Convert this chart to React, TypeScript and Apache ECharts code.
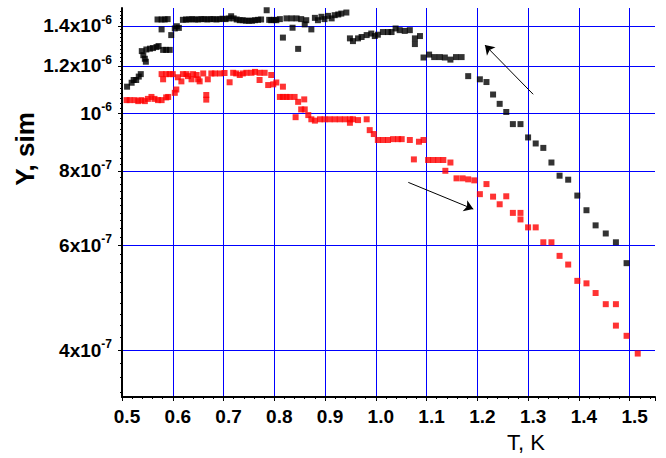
import React, { useEffect, useRef } from 'react';
import * as echarts from 'echarts';

// Black series: T in K, Y in units of 1e-6 sim
const blackT = [
  0.510, 0.519, 0.523, 0.528, 0.533, 0.537, 0.539, 0.542, 0.545, 0.547,
  0.548, 0.555, 0.561, 0.568, 0.572, 0.581, 0.587, 0.594, 0.570, 0.578,
  0.584, 0.590, 0.578, 0.597, 0.604, 0.608, 0.612,
  0.620, 0.626, 0.632, 0.638, 0.644, 0.650, 0.656, 0.662, 0.668, 0.674,
  0.680, 0.686, 0.692, 0.698, 0.704, 0.710, 0.715, 0.720, 0.726, 0.732,
  0.738, 0.744, 0.750, 0.756, 0.762, 0.768, 0.774, 0.785, 0.790, 0.794,
  0.800, 0.804, 0.811, 0.824, 0.834, 0.844, 0.853, 0.863, 0.817, 0.836,
  0.847, 0.860, 0.873, 0.880, 0.886, 0.893, 0.899, 0.906, 0.913, 0.919,
  0.926, 0.932, 0.942, 0.949, 0.955, 0.965, 0.972, 0.982, 0.991, 0.998,
  1.004, 1.014, 1.024, 1.031, 1.039, 1.047, 1.057, 1.067, 1.077, 1.087,
  1.077, 1.094, 1.105, 1.115, 1.126, 1.136, 1.147, 1.158, 1.169, 1.182,
  1.205, 1.218, 1.231, 1.244, 1.257, 1.270, 1.285, 1.300, 1.315, 1.330,
  1.346, 1.362, 1.379, 1.397, 1.415, 1.433, 1.453, 1.473, 1.494,
];
const blackY = [
  1.107, 1.124, 1.136, 1.136, 1.151, 1.162, 1.270, 1.250, 1.233, 1.219,
  1.278, 1.282, 1.285, 1.290, 1.295, 1.276, 1.276, 1.276, 1.435, 1.435,
  1.435, 1.437, 1.381, 1.351, 1.386, 1.398, 1.389,
  1.433, 1.435, 1.435, 1.437, 1.435, 1.435, 1.437, 1.437, 1.435, 1.437,
  1.437, 1.435, 1.437, 1.439, 1.437, 1.441, 1.453, 1.441, 1.435, 1.431,
  1.431, 1.428, 1.428, 1.428, 1.431, 1.433, 1.435, 1.487, 1.433, 1.431,
  1.433, 1.431, 1.437, 1.441, 1.441, 1.441, 1.437, 1.431, 1.338, 1.390,
  1.281, 1.408, 1.381, 1.444, 1.431, 1.450, 1.437, 1.455, 1.441, 1.459,
  1.463, 1.468, 1.474, 1.334, 1.320, 1.334, 1.341, 1.351, 1.359, 1.346,
  1.353, 1.367, 1.367, 1.367, 1.386, 1.377, 1.373, 1.377, 1.334, 1.346,
  1.305, 1.239, 1.253, 1.241, 1.241, 1.239, 1.229, 1.241, 1.241, 1.153,
  1.139, 1.127, 1.074, 1.036, 1.004, 0.958, 0.958, 0.910, 0.889, 0.874,
  0.826, 0.785, 0.773, 0.727, 0.687, 0.648, 0.628, 0.607, 0.560,
];

// Red series: T in K, Y in units of 1e-6 sim
const redT = [
  0.509, 0.515, 0.525, 0.532, 0.538, 0.545, 0.551, 0.558, 0.564, 0.571,
  0.578, 0.587, 0.591, 0.604, 0.607, 0.578, 0.581, 0.587, 0.594, 0.600,
  0.610, 0.617, 0.620, 0.627, 0.630, 0.637, 0.640, 0.647, 0.650, 0.653,
  0.660, 0.666, 0.666, 0.669, 0.676, 0.683, 0.693, 0.702, 0.712, 0.719,
  0.725, 0.732, 0.738, 0.745, 0.755, 0.762, 0.771, 0.771, 0.781, 0.788,
  0.794, 0.798, 0.804, 0.817, 0.811, 0.817, 0.824, 0.830, 0.840, 0.847,
  0.859, 0.853, 0.860, 0.842, 0.867, 0.873, 0.880, 0.890, 0.899, 0.909,
  0.919, 0.929, 0.939, 0.949, 0.949, 0.955, 0.965, 0.982, 0.988, 0.996,
  1.004, 1.014, 1.024, 1.034, 1.044, 1.051, 1.067, 1.075, 1.085, 1.094,
  1.103, 1.113, 1.123, 1.133, 1.147, 1.137, 1.159, 1.171, 1.182, 1.194,
  1.218, 1.205, 1.231, 1.257, 1.244, 1.270, 1.285, 1.285, 1.300, 1.315,
  1.330, 1.346, 1.362, 1.379, 1.397, 1.415, 1.433, 1.453, 1.473, 1.473,
  1.494, 1.516,
];
const redY = [
  1.051, 1.051, 1.051, 1.047, 1.051, 1.047, 1.056, 1.064, 1.056, 1.051,
  1.051, 1.062, 1.064, 1.081, 1.095, 1.162, 1.139, 1.162, 1.162, 1.162,
  1.148, 1.130, 1.162, 1.162, 1.153, 1.139, 1.162, 1.158, 1.139, 1.130,
  1.165, 1.072, 1.053, 1.139, 1.165, 1.165, 1.165, 1.167, 1.126, 1.168,
  1.165, 1.158, 1.165, 1.168, 1.168, 1.172, 1.168, 1.136, 1.168, 1.114,
  1.158, 1.117, 1.125, 1.107, 1.064, 1.064, 1.064, 1.064, 1.064, 1.044,
  1.054, 1.014, 1.014, 0.984, 0.992, 0.976, 0.971, 0.976, 0.976, 0.976,
  0.976, 0.976, 0.976, 0.976, 0.963, 0.976, 0.973, 0.976, 0.936, 0.922,
  0.901, 0.901, 0.901, 0.904, 0.904, 0.904, 0.901, 0.836, 0.895, 0.901,
  0.834, 0.834, 0.834, 0.834, 0.826, 0.800, 0.777, 0.777, 0.774, 0.771,
  0.760, 0.731, 0.724, 0.725, 0.703, 0.680, 0.680, 0.663, 0.643, 0.643,
  0.607, 0.607, 0.576, 0.557, 0.523, 0.518, 0.499, 0.478, 0.478, 0.440,
  0.423, 0.395,
];

// Y axis (log) major ticks and their labels
const yTicks = [4e-7, 6e-7, 8e-7, 1e-6, 1.2e-6, 1.4e-6];
const yTickMantissa = ['4x10', '6x10', '8x10', '10', '1.2x10', '1.4x10'];
const yTickExponent = ['-7', '-7', '-7', '-6', '-6', '-6'];
const yMinorTicks = [
  3.4e-7, 3.6e-7, 3.8e-7, 4.2e-7, 4.4e-7, 4.6e-7, 4.8e-7, 5.0e-7, 5.2e-7, 5.4e-7,
  5.6e-7, 5.8e-7, 6.2e-7, 6.4e-7, 6.6e-7, 6.8e-7, 7.0e-7, 7.2e-7, 7.4e-7, 7.6e-7,
  7.8e-7, 8.2e-7, 8.4e-7, 8.6e-7, 8.8e-7, 9.0e-7, 9.2e-7, 9.4e-7, 9.6e-7, 9.8e-7,
  1.02e-6, 1.04e-6, 1.06e-6, 1.08e-6, 1.1e-6, 1.12e-6, 1.14e-6, 1.16e-6, 1.18e-6,
  1.22e-6, 1.24e-6, 1.26e-6, 1.28e-6, 1.3e-6, 1.32e-6, 1.34e-6, 1.36e-6, 1.38e-6,
  1.42e-6, 1.44e-6, 1.46e-6, 1.48e-6,
];

// Annotation arrows: [start, end] in data coordinates (T, Y)
const arrowBlack = [[1.310, 1.075e-6], [1.215, 1.300e-6]];
const arrowRed = [[1.064, 7.65e-7], [1.192, 6.90e-7]];

const FONT = "'Liberation Sans', Arial, sans-serif";

export default function App() {
  const ref = useRef<HTMLDivElement>(null);
  useEffect(() => {
    const chart = echarts.init(ref.current!, null, { renderer: 'svg' });
    const yFmt = (v: number) => {
      const i = yTicks.findIndex((t) => Math.abs(t - v) / t < 1e-3);
      if (i < 0) return '';
      return `{m|${yTickMantissa[i]}}{s|${yTickExponent[i]}}`;
    };
    chart.setOption({
      animation: false,
      backgroundColor: '#ffffff',
      grid: { left: 122, top: 8, right: 11, bottom: 61, containLabel: false },
      xAxis: {
        type: 'value',
        min: 0.5,
        max: 1.55,
        interval: 0.1,
        axisLine: { show: true, onZero: false, lineStyle: { color: '#000', width: 2 } },
        axisTick: { show: true, length: 4, lineStyle: { color: '#000', width: 1 } },
        minorTick: { show: true, splitNumber: 5, length: 2, lineStyle: { color: '#000', width: 1 } },
        axisLabel: {
          color: '#000',
          fontFamily: FONT,
          fontSize: 19,
          fontWeight: 'bold',
          margin: 10,
          padding: [0, 0, 0, 10],
          formatter: (v: number) =>
            Math.abs(v * 10 - Math.round(v * 10)) < 1e-6 ? v.toFixed(1) : '',
        },
        splitLine: {
          show: true,
          showMinLine: false,
          showMaxLine: false,
          lineStyle: { color: '#0000ff', width: 1 },
        },
      },
      yAxis: [
        {
          type: 'log',
          logBase: 10,
          min: 3.34e-7,
          max: 1.5e-6,
          axisLine: { show: true, onZero: false, lineStyle: { color: '#000', width: 2 } },
          axisTick: { show: true, customValues: yTicks, length: 4, lineStyle: { color: '#000' } },
          minorTick: { show: false },
          axisLabel: {
            customValues: yTicks,
            margin: 10,
            formatter: yFmt,
            rich: {
              m: { fontFamily: FONT, fontSize: 19, fontWeight: 'bold', color: '#000', lineHeight: 24 },
              s: { fontFamily: FONT, fontSize: 12, fontWeight: 'bold', color: '#000', lineHeight: 14, verticalAlign: 'top' },
            },
          },
          splitLine: { show: true, lineStyle: { color: '#0000ff', width: 1 } },
        },
        {
          type: 'log',
          logBase: 10,
          min: 3.34e-7,
          max: 1.5e-6,
          position: 'left',
          axisLine: { show: false },
          axisTick: { show: true, customValues: yMinorTicks, length: 2, lineStyle: { color: '#000' } },
          axisLabel: { show: false },
          splitLine: { show: false },
        },
      ],
      series: [
        {
          type: 'scatter',
          name: 'black',
          yAxisIndex: 0,
          symbol: 'rect',
          symbolSize: 6,
          itemStyle: { color: '#000000' },
          emphasis: { disabled: true },
          data: blackT.map((t, i) => [t, blackY[i] * 1e-6]),
          markLine: {
            silent: true,
            symbol: ['none', 'arrow'],
            symbolSize: 9,
            label: { show: false },
            lineStyle: { color: '#000', width: 1, type: 'solid' },
            emphasis: { disabled: true },
            data: [
              [{ coord: arrowBlack[0] }, { coord: arrowBlack[1] }],
              [{ coord: arrowRed[0] }, { coord: arrowRed[1] }],
            ],
          },
        },
        {
          type: 'scatter',
          name: 'red',
          yAxisIndex: 0,
          symbol: 'rect',
          symbolSize: 6,
          itemStyle: { color: '#ff0000' },
          emphasis: { disabled: true },
          data: redT.map((t, i) => [t, redY[i] * 1e-6]),
        },
      ],
      graphic: [
        {
          type: 'text',
          x: 25,
          y: 149,
          rotation: Math.PI / 2,
          style: {
            text: 'Y, sim',
            font: `bold 26px ${FONT}`,
            fill: '#000',
            align: 'center',
            verticalAlign: 'middle',
          },
        },
        {
          type: 'text',
          x: 526,
          y: 442,
          style: {
            text: 'T, K',
            font: `22px ${FONT}`,
            fill: '#000',
            align: 'center',
            verticalAlign: 'middle',
          },
        },
      ],
    });
    return () => chart.dispose();
  }, []);
  return (
    <div
      ref={ref}
      style={{ position: 'fixed', left: 0, top: 0, width: 666, height: 458 }}
    />
  );
}
